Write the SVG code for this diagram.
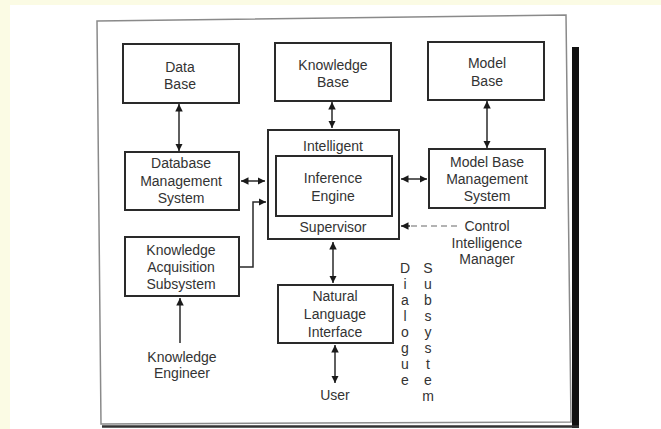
<svg xmlns="http://www.w3.org/2000/svg" width="661" height="429" viewBox="0 0 661 429">
  <style>
    .box { fill: none; stroke: #2a2a2a; stroke-width: 2; }
    .lbl { font-family: "Liberation Sans", Arial, sans-serif; font-size: 14px; fill: #333; text-anchor: middle; }
    .wire { fill: none; stroke: #2a2a2a; stroke-width: 1.5; }
    .dash { fill: none; stroke: #9a9a9a; stroke-width: 1.5; stroke-dasharray: 6 4; }
  </style>
  <defs>
    <marker id="head" viewBox="0 0 10 10" refX="10" refY="5" markerWidth="5" markerHeight="5" orient="auto-start-reverse" markerUnits="strokeWidth">
      <path d="M0,0 L10,5 L0,10 Z" fill="#1a1a1a"/>
    </marker>
  </defs>

  <!-- page background -->
  <rect x="0" y="0" width="661" height="429" fill="#fbfbe4"/>
  <rect x="10" y="5" width="651" height="424" fill="#ffffff"/>

  <!-- sheet outline and its shadow -->
  <polygon points="97,21 566,15 571,422 101,424" fill="none" stroke="#8a8a8a" stroke-width="1.5"/>
  <rect x="572" y="47" width="7" height="381" fill="#111"/>
  <line x1="102" y1="426.5" x2="579" y2="426.5" stroke="#333" stroke-width="2.5"/>

  <!-- connectors -->
  <g id="connectors">
    <line class="wire" x1="179" y1="104" x2="179" y2="151" marker-start="url(#head)" marker-end="url(#head)"/>
    <line class="wire" x1="332" y1="102" x2="332" y2="128" marker-start="url(#head)" marker-end="url(#head)"/>
    <line class="wire" x1="487" y1="101" x2="487" y2="148" marker-start="url(#head)" marker-end="url(#head)"/>
    <line class="wire" x1="241" y1="181" x2="265" y2="181" marker-start="url(#head)" marker-end="url(#head)"/>
    <line class="wire" x1="401" y1="179" x2="427" y2="179" marker-start="url(#head)" marker-end="url(#head)"/>
    <polyline class="wire" points="240,267 253,267 253,202 266,202" marker-end="url(#head)"/>
    <line class="dash" x1="457" y1="226" x2="410" y2="226"/>
    <line class="wire" x1="410" y1="226" x2="401" y2="226" marker-end="url(#head)"/>
    <line class="wire" x1="333" y1="242" x2="333" y2="283" marker-start="url(#head)" marker-end="url(#head)"/>
    <line class="wire" x1="335" y1="345" x2="335" y2="383" marker-start="url(#head)" marker-end="url(#head)"/>
    <line class="wire" x1="180" y1="343" x2="180" y2="298" marker-end="url(#head)"/>
  </g>

  <g id="data-base">
    <rect class="box" x="123" y="44" width="116" height="59"/>
    <text class="lbl" x="180" y="72">Data</text>
    <text class="lbl" x="180" y="89">Base</text>
  </g>

  <g id="knowledge-base">
    <rect class="box" x="275" y="43" width="116" height="58"/>
    <text class="lbl" x="333" y="70">Knowledge</text>
    <text class="lbl" x="333" y="87">Base</text>
  </g>

  <g id="model-base">
    <rect class="box" x="428" y="42" width="116" height="58"/>
    <text class="lbl" x="487" y="68">Model</text>
    <text class="lbl" x="487" y="86">Base</text>
  </g>

  <g id="intelligent-supervisor">
    <rect class="box" x="268" y="130" width="131" height="109"/>
    <text class="lbl" x="333" y="151">Intelligent</text>
    <text class="lbl" x="333" y="232">Supervisor</text>
  </g>

  <g id="inference-engine">
    <rect class="box" x="276" y="156" width="116" height="60"/>
    <text class="lbl" x="333" y="183">Inference</text>
    <text class="lbl" x="333" y="201">Engine</text>
  </g>

  <g id="dbms">
    <rect class="box" x="125" y="152" width="114" height="58"/>
    <text class="lbl" x="181" y="168">Database</text>
    <text class="lbl" x="181" y="186">Management</text>
    <text class="lbl" x="181" y="203">System</text>
  </g>

  <g id="mbms">
    <rect class="box" x="429" y="149" width="116" height="59"/>
    <text class="lbl" x="487" y="167">Model Base</text>
    <text class="lbl" x="487" y="184">Management</text>
    <text class="lbl" x="487" y="201">System</text>
  </g>

  <g id="knowledge-acquisition">
    <rect class="box" x="125" y="237" width="114" height="59"/>
    <text class="lbl" x="181" y="255">Knowledge</text>
    <text class="lbl" x="181" y="272">Acquisition</text>
    <text class="lbl" x="181" y="289">Subsystem</text>
  </g>

  <g id="natural-language-interface">
    <rect class="box" x="278" y="285" width="115" height="58"/>
    <text class="lbl" x="335" y="301">Natural</text>
    <text class="lbl" x="335" y="319">Language</text>
    <text class="lbl" x="335" y="337">Interface</text>
  </g>

  <g id="control-intelligence-manager">
    <text class="lbl" x="487" y="231">Control</text>
    <text class="lbl" x="487" y="248">Intelligence</text>
    <text class="lbl" x="487" y="264">Manager</text>
  </g>

  <g id="knowledge-engineer">
    <text class="lbl" x="182" y="362">Knowledge</text>
    <text class="lbl" x="182" y="378">Engineer</text>
  </g>

  <g id="user">
    <text class="lbl" x="335" y="400">User</text>
  </g>

  <!-- vertical caption for the dialogue subsystem -->
  <g id="dialogue-subsystem">
    <text class="lbl" x="405" y="273">D<tspan x="405" dy="16">i</tspan><tspan x="405" dy="16">a</tspan><tspan x="405" dy="16">l</tspan><tspan x="405" dy="16">o</tspan><tspan x="405" dy="16">g</tspan><tspan x="405" dy="16">u</tspan><tspan x="405" dy="16">e</tspan></text>
    <text class="lbl" x="428" y="273">S<tspan x="428" dy="16">u</tspan><tspan x="428" dy="16">b</tspan><tspan x="428" dy="16">s</tspan><tspan x="428" dy="16">y</tspan><tspan x="428" dy="16">s</tspan><tspan x="428" dy="16">t</tspan><tspan x="428" dy="16">e</tspan><tspan x="428" dy="16">m</tspan></text>
  </g>
</svg>
